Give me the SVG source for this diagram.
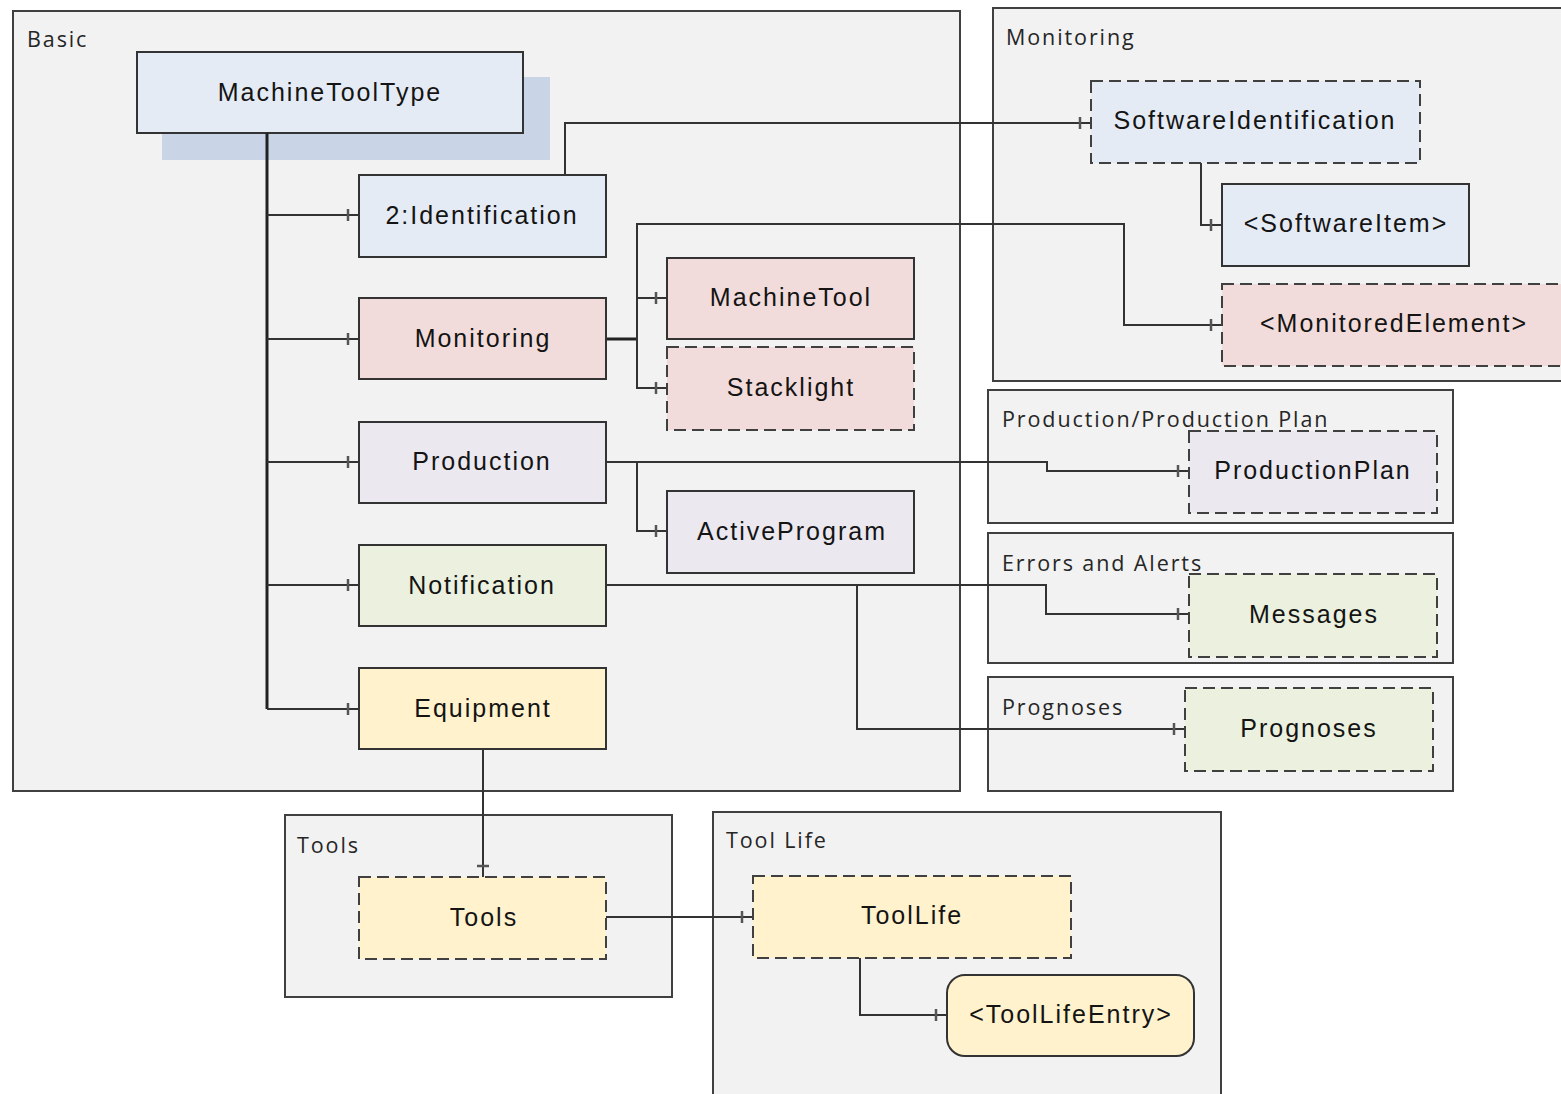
<svg xmlns="http://www.w3.org/2000/svg" width="1561" height="1094" viewBox="0 0 1561 1094">
<style>
.cont{fill:#f2f2f2;stroke:#404040;stroke-width:2}
.clbl{font-family:"Open Sans","Liberation Sans",sans-serif;font-size:21.5px;letter-spacing:1.9px;fill:#262626}
.node{stroke:#333;stroke-width:2}
.dash{stroke:#404040;stroke-width:2;stroke-dasharray:12 6}
.ntxt{font-family:"Liberation Sans",Arial,sans-serif;font-size:25px;letter-spacing:2px;fill:#141414;text-anchor:middle}
.blue{fill:#e5ebf5}
.pink{fill:#f2dcdb}
.lav{fill:#ebe8f0}
.green{fill:#ebf1de}
.yel{fill:#fff2cc}
.con{fill:none;stroke:#333;stroke-width:2;marker-end:url(#tick)}
.thick{fill:none;stroke:#222;stroke-width:3}
</style>
<defs>
<marker id="tick" markerUnits="userSpaceOnUse" markerWidth="30" markerHeight="20" viewBox="0 0 30 20" refX="15" refY="10" orient="auto">
<path d="M4,4 L4,16" stroke="#555" stroke-width="2.5"/>
</marker>
</defs>
<rect width="1561" height="1094" fill="#ffffff"/>
<g id="containers">
<g id="c-basic"><rect class="cont" x="13" y="11" width="947" height="780"/><text class="clbl" x="27" y="47">Basic</text></g>
<g id="c-monitoring"><rect class="cont" x="993" y="8" width="620" height="373"/><text class="clbl" x="1006" y="45">Monitoring</text></g>
<g id="c-prodplan"><rect class="cont" x="988" y="390" width="465" height="133"/><text class="clbl" x="1002" y="427">Production/Production Plan</text></g>
<g id="c-errors"><rect class="cont" x="988" y="533" width="465" height="130"/><text class="clbl" x="1002" y="571">Errors and Alerts</text></g>
<g id="c-prognoses"><rect class="cont" x="988" y="677" width="465" height="114"/><text class="clbl" x="1002" y="715">Prognoses</text></g>
<g id="c-tools"><rect class="cont" x="285" y="815" width="387" height="182"/><text class="clbl" x="297" y="853">Tools</text></g>
<g id="c-toollife"><rect class="cont" x="713" y="812" width="508" height="300"/><text class="clbl" x="726" y="848">Tool Life</text></g>
</g>
<g id="n-machinetooltype"><rect x="162" y="77" width="388" height="83" fill="#c9d4e6"/><rect class="node blue" x="137" y="52" width="386" height="81"/><text class="ntxt" x="330" y="101">MachineToolType</text></g>
<g id="connectors">
<path class="thick" d="M267,133 V709"/>
<path class="con" d="M267,215 H359"/>
<path class="con" d="M267,339 H359"/>
<path class="con" d="M267,462 H359"/>
<path class="con" d="M267,585 H359"/>
<path class="con" d="M267,709 H359"/>
<path class="con" d="M565,175 V123 H1091"/>
<path class="con" d="M1201,163 V225 H1222"/>
<path class="thick" d="M606,339 H637"/>
<path class="con" d="M637,339 V298 H667"/>
<path class="con" d="M637,339 V388 H667"/>
<path class="con" d="M637,339 V224 H1124 V325 H1222"/>
<path class="con" d="M606,462 H637 V531 H667"/>
<path class="con" d="M637,462 H1047 V471 H1189"/>
<path class="con" d="M606,585 H1046 V614 H1189"/>
<path class="con" d="M857,585 V729 H1185"/>
<path class="con" d="M483,749 V877"/>
<path class="con" d="M606,917 H753"/>
<path class="con" d="M860,958 V1015 H947"/>
</g>
<g id="n-identification"><rect class="node blue" x="359" y="175" width="247" height="82"/><text class="ntxt" x="482" y="224">2:Identification</text></g>
<g id="n-monitoring"><rect class="node pink" x="359" y="298" width="247" height="81"/><text class="ntxt" x="483" y="347">Monitoring</text></g>
<g id="n-production"><rect class="node lav" x="359" y="422" width="247" height="81"/><text class="ntxt" x="482" y="470">Production</text></g>
<g id="n-notification"><rect class="node green" x="359" y="545" width="247" height="81"/><text class="ntxt" x="482" y="594">Notification</text></g>
<g id="n-equipment"><rect class="node yel" x="359" y="668" width="247" height="81"/><text class="ntxt" x="483" y="717">Equipment</text></g>
<g id="n-machinetool"><rect class="node pink" x="667" y="258" width="247" height="81"/><text class="ntxt" x="791" y="306">MachineTool</text></g>
<g id="n-stacklight"><rect class="dash pink" x="667" y="347" width="247" height="83"/><text class="ntxt" x="791" y="396">Stacklight</text></g>
<g id="n-activeprogram"><rect class="node lav" x="667" y="491" width="247" height="82"/><text class="ntxt" x="792" y="540">ActiveProgram</text></g>
<g id="n-softwareidentification"><rect class="dash blue" x="1091" y="81" width="329" height="82"/><text class="ntxt" x="1255" y="129">SoftwareIdentification</text></g>
<g id="n-softwareitem"><rect class="node blue" x="1222" y="184" width="247" height="82"/><text class="ntxt" x="1346" y="232">&lt;SoftwareItem&gt;</text></g>
<g id="n-monitoredelement"><rect class="dash pink" x="1222" y="284" width="344" height="82"/><text class="ntxt" x="1394" y="332">&lt;MonitoredElement&gt;</text></g>
<g id="n-productionplan"><rect class="dash lav" x="1189" y="431" width="248" height="82"/><text class="ntxt" x="1313" y="479">ProductionPlan</text></g>
<g id="n-messages"><rect class="dash green" x="1189" y="574" width="248" height="83"/><text class="ntxt" x="1314" y="623">Messages</text></g>
<g id="n-prognoses"><rect class="dash green" x="1185" y="688" width="248" height="83"/><text class="ntxt" x="1309" y="737">Prognoses</text></g>
<g id="n-tools"><rect class="dash yel" x="359" y="877" width="247" height="82"/><text class="ntxt" x="484" y="926">Tools</text></g>
<g id="n-toollife"><rect class="dash yel" x="753" y="876" width="318" height="82"/><text class="ntxt" x="912" y="924">ToolLife</text></g>
<g id="n-toollifeentry"><rect class="node yel" x="947" y="975" width="247" height="81" rx="18" ry="18"/><text class="ntxt" x="1071" y="1023">&lt;ToolLifeEntry&gt;</text></g>
</svg>
